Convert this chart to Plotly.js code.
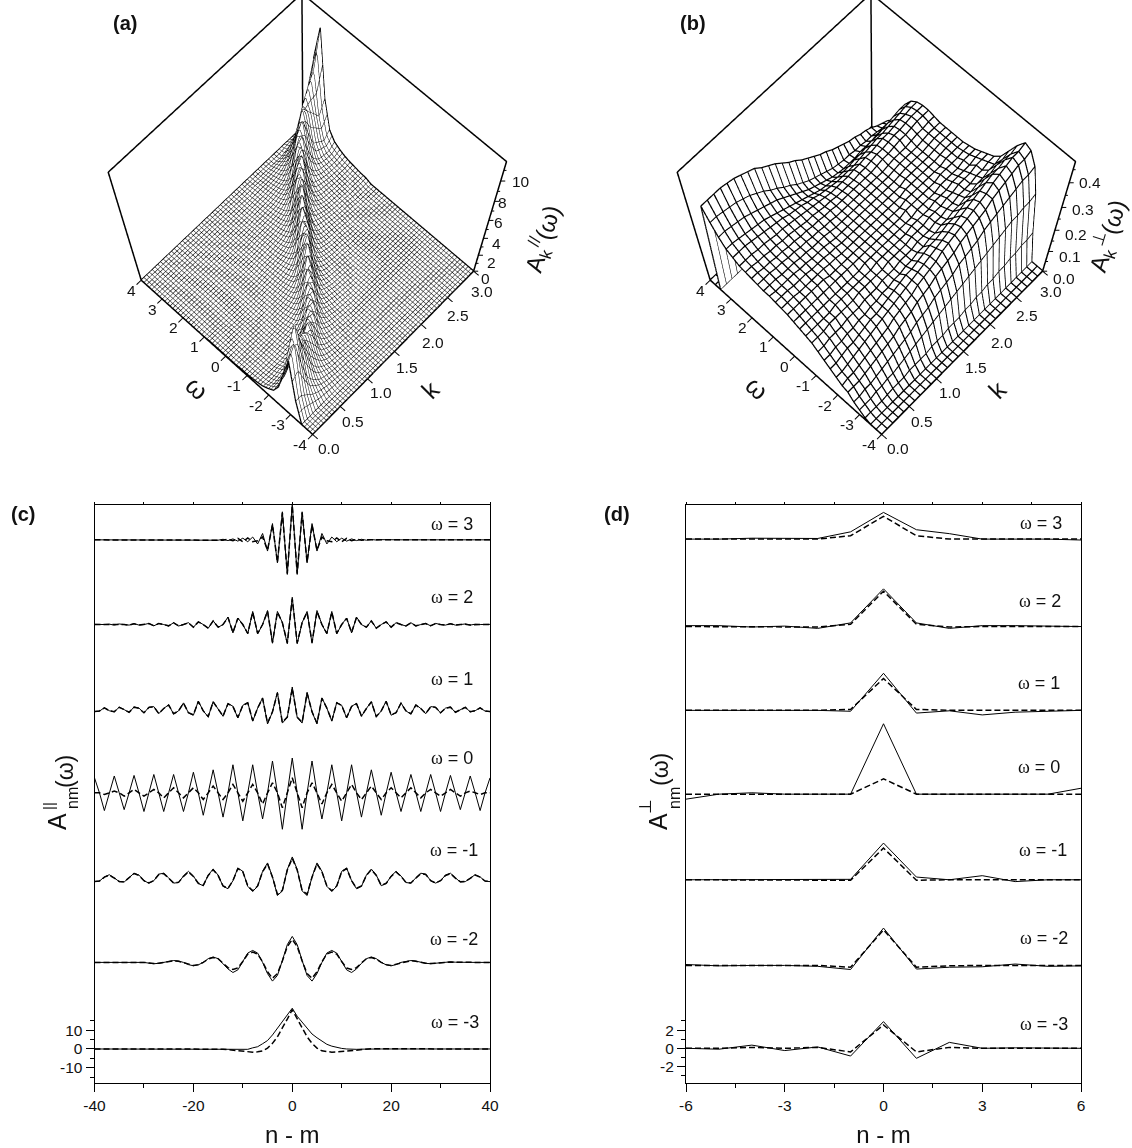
<!DOCTYPE html><html><head><meta charset="utf-8"><script src="https://cdn.plot.ly/plotly-3.0.1.min.js"></script></head><body style="margin:0;background:#fff"><div id="g" style="width:1132px;height:1148px"></div><script>
const kGrid=[0,.1,.2,.3,.4,.5,.6,.7,.8,.9,1,1.1,1.2,1.3,1.4,1.5,1.6,1.7,1.8,1.9,2,2.1,2.2,2.3,2.4,2.5,2.6,2.7,2.8,2.9,3];
const wGrid=[-4,-3.75,-3.5,-3.25,-3,-2.75,-2.5,-2.25,-2,-1.75,-1.5,-1.25,-1,-.75,-.5,-.25,0,.25,.5,.75,1,1.25,1.5,1.75,2,2.25,2.5,2.75,3,3.25,3.5,3.75,4];
// panel (a): one column of values per k, read along w
const zAbyK=[
[0,0,0,3,8,5.5,2.8,1.5,1,.6,.4,.3,.2,.2,.1,.1,.1,.1,.1,.1,0,0,0,0,0,0,0,0,0,0,0,0,0],
[0,0,0,3,9.5,8,3.7,1.7,.9,.5,.35,.25,.2,.15,.1,.1,.1,.1,.1,.1,0,0,0,0,0,0,0,0,0,0,0,0,0],
[0,0,0,2.2,6,10.5,5,2,1,.5,.3,.2,.2,.1,.1,.1,.1,.1,.1,.1,0,0,0,0,0,0,0,0,0,0,0,0,0],
[0,0,0,1.4,3.2,7,8,3,1.3,.7,.3,.2,.2,.1,.1,.1,.1,.1,.1,0,0,0,0,0,0,0,0,0,0,0,0,0,0],
[0,0,0,.9,2,4.5,6.5,3.4,1.5,.7,.35,.25,.2,.15,.1,.1,.1,.1,0,0,0,0,0,0,0,0,0,0,0,0,0,0,0],
[0,0,0,.6,1.1,2.5,4.6,5.5,2,1,.45,.3,.2,.15,.1,.1,.1,.1,0,0,0,0,0,0,0,0,0,0,0,0,0,0,0],
[0,0,0,.35,.7,1.4,3,4.8,3,1.2,.6,.4,.25,.2,.1,.1,.1,0,0,0,0,0,0,0,0,0,0,0,0,0,0,0,0],
[0,0,0,.2,.45,.8,1.6,3.6,4.8,2.3,1,.55,.35,.25,.15,.1,.1,0,0,0,0,0,0,0,0,0,0,0,0,0,0,0,0],
[0,0,0,.1,.25,.4,.8,1.6,3.6,3.9,1.8,.85,.5,.3,.2,.15,.1,.1,0,0,0,0,0,0,0,0,0,0,0,0,0,0,0],
[0,0,0,0,.2,.3,.5,.85,1.8,3.8,3.8,1.7,.8,.5,.3,.2,.15,.1,.1,0,0,0,0,0,0,0,0,0,0,0,0,0,0],
[0,0,0,0,.15,.2,.3,.5,.85,1.8,3.9,3.9,1.8,.85,.5,.3,.2,.15,.1,.1,0,0,0,0,0,0,0,0,0,0,0,0,0],
[0,0,0,0,0,.15,.2,.3,.5,.9,1.8,3.9,4.2,2,.95,.55,.35,.25,.15,.1,.1,0,0,0,0,0,0,0,0,0,0,0,0],
[0,0,0,0,0,0,.15,.2,.35,.55,.8,1.7,3.7,4.8,2.4,1.05,.6,.4,.25,.2,.15,.1,.1,0,0,0,0,0,0,0,0,0,0],
[0,0,0,0,0,0,0,.15,.2,.35,.55,.8,1.5,3.4,5.2,2.8,1.25,.65,.4,.3,.2,.15,.1,.1,0,0,0,0,0,0,0,0,0],
[0,0,0,0,0,0,0,0,.15,.2,.3,.55,.7,1.3,2.9,5.4,3.6,1.5,.8,.5,.35,.2,.15,.15,.1,.1,0,0,0,0,0,0,0],
[0,0,0,0,0,0,0,0,0,.15,.2,.35,.55,.6,1.2,2.5,5.1,4.2,1.8,.95,.55,.35,.25,.2,.15,.1,.1,0,0,0,0,0,0],
[0,0,0,0,0,0,0,0,0,0,.15,.2,.3,.4,.55,1,2,4.5,4.8,2.3,1.1,.6,.4,.25,.2,.15,.1,.1,0,0,0,0,0],
[0,0,0,0,0,0,0,0,0,0,0,.15,.2,.3,.4,.55,.9,1.8,4,5.3,2.7,1.2,.7,.45,.3,.2,.15,.1,.1,0,0,0,0],
[0,0,0,0,0,0,0,0,0,0,0,0,.15,.2,.3,.4,.55,.75,1.5,3.4,5.5,3.2,1.4,.75,.45,.3,.2,.15,.1,.1,0,0,0],
[0,0,0,0,0,0,0,0,0,0,0,0,0,.15,.2,.25,.35,.5,.7,1.3,2.9,5.5,3.6,1.5,.8,.5,.3,.2,.15,.1,.1,0,0],
[0,0,0,0,0,0,0,0,0,0,0,0,0,0,.15,.2,.25,.3,.45,.65,1.1,2.4,5,4.3,1.9,.95,.55,.35,.25,.15,.1,0,0],
[0,0,0,0,0,0,0,0,0,0,0,0,0,0,0,.15,.2,.25,.35,.5,.8,1.1,2.4,5,4.3,1.9,.95,.55,.35,.2,.1,0,0],
[0,0,0,0,0,0,0,0,0,0,0,0,0,0,0,0,.15,.2,.3,.4,.55,.8,1.2,2.6,5.2,4,1.8,.9,.5,.3,.15,0,0],
[0,0,0,0,0,0,0,0,0,0,0,0,0,0,0,0,0,.15,.2,.3,.4,.5,.7,1.1,2.3,4.8,4.5,2,1,.5,.25,0,0],
[0,0,0,0,0,0,0,0,0,0,0,0,0,0,0,0,0,0,.15,.2,.3,.35,.45,.65,1.1,2.4,5,4.5,2,.95,.4,0,0],
[0,0,0,0,0,0,0,0,0,0,0,0,0,0,0,0,0,0,.1,.15,.25,.3,.4,.55,.8,1.3,3,5.6,3.7,1.6,.6,0,0],
[0,0,0,0,0,0,0,0,0,0,0,0,0,0,0,0,0,0,0,.15,.2,.25,.3,.45,.6,.85,1.6,3.8,5.7,3,1.2,.2,0],
[0,0,0,0,0,0,0,0,0,0,0,0,0,0,0,0,0,0,0,0,.15,.2,.3,.35,.5,.7,1,2.2,4.9,5,2.3,.4,0],
[0,0,0,0,0,0,0,0,0,0,0,0,0,0,0,0,0,0,0,0,.15,.2,.25,.35,.45,.6,.85,1.8,4.2,6.3,3.3,.5,0],
[0,0,0,0,0,0,0,0,0,0,0,0,0,0,0,0,0,0,0,0,.15,.2,.25,.35,.45,.6,.8,1.4,3.4,7.3,5.4,.6,0],
[0,0,0,0,0,0,0,0,0,0,0,0,0,0,0,0,0,0,0,0,.2,.25,.35,.45,.6,.85,1.2,2,4.6,10.3,7.5,.8,0]];
const zA=wGrid.map((_,i)=>zAbyK.map(col=>col[i]));
// panel (b): one row of values per w, read along k
const zero=[0,0,0,0,0,0,0,0,0,0,0,0,0,0,0,0,0,0,0,0,0,0,0,0,0,0,0,0,0,0,0];
const zB=[zero,zero,zero,
[.01,.01,.01,.01,.015,.02,.02,.02,.03,.03,.03,.03,.04,.04,.04,.05,.05,.05,.06,.06,.07,.07,.08,.08,.09,.09,.1,.1,.11,.11,.12],
[.03,.03,.03,.04,.04,.05,.05,.06,.07,.08,.09,.1,.11,.12,.13,.14,.15,.16,.17,.18,.19,.2,.21,.22,.23,.24,.25,.25,.26,.26,.27],
[.05,.05,.06,.06,.07,.08,.09,.1,.11,.12,.13,.15,.16,.17,.19,.2,.21,.22,.24,.25,.26,.27,.29,.3,.31,.32,.33,.34,.35,.35,.36],
[.08,.08,.08,.09,.1,.11,.12,.13,.14,.16,.17,.18,.2,.21,.22,.24,.25,.26,.27,.29,.3,.31,.32,.33,.35,.36,.37,.38,.39,.39,.4],
[.09,.1,.1,.11,.12,.13,.14,.15,.16,.18,.19,.2,.21,.23,.24,.25,.26,.28,.29,.3,.31,.32,.33,.34,.35,.37,.38,.39,.4,.4,.41],
[.11,.11,.12,.13,.14,.15,.16,.17,.18,.19,.2,.21,.22,.23,.24,.25,.26,.27,.28,.29,.3,.31,.32,.33,.34,.35,.36,.36,.37,.37,.38],
[.13,.13,.14,.15,.15,.16,.17,.18,.18,.19,.2,.21,.22,.23,.23,.24,.25,.26,.26,.27,.28,.28,.29,.3,.3,.31,.32,.32,.33,.33,.34],
[.15,.15,.16,.16,.17,.17,.18,.18,.19,.19,.2,.2,.21,.21,.22,.22,.23,.23,.24,.24,.25,.25,.26,.26,.27,.27,.28,.28,.29,.29,.3],
[.17,.17,.18,.18,.18,.19,.19,.19,.2,.2,.2,.21,.21,.21,.22,.22,.22,.23,.23,.23,.24,.24,.25,.25,.26,.26,.26,.27,.27,.28,.28],
[.19,.19,.19,.2,.2,.2,.2,.2,.21,.21,.21,.21,.21,.22,.22,.22,.22,.23,.23,.23,.24,.24,.24,.25,.25,.26,.26,.26,.27,.27,.27],
[.2,.2,.2,.2,.2,.21,.21,.21,.21,.21,.21,.21,.22,.22,.22,.22,.22,.22,.23,.23,.23,.23,.24,.24,.24,.25,.25,.25,.25,.26,.26],
[.21,.21,.21,.21,.21,.21,.21,.21,.21,.21,.21,.22,.22,.22,.22,.22,.22,.22,.22,.22,.23,.23,.23,.23,.24,.24,.24,.24,.25,.25,.25],
[.22,.22,.22,.22,.22,.22,.22,.22,.22,.22,.22,.22,.22,.22,.22,.22,.22,.22,.22,.23,.23,.23,.23,.23,.23,.24,.24,.24,.24,.245,.245],
[.23,.23,.23,.23,.23,.23,.23,.22,.22,.22,.22,.22,.22,.22,.22,.22,.22,.22,.22,.22,.23,.23,.23,.23,.23,.23,.23,.24,.24,.24,.24],
[.235,.235,.235,.23,.23,.23,.23,.23,.225,.225,.22,.22,.22,.22,.22,.22,.22,.22,.22,.22,.22,.23,.23,.23,.23,.23,.23,.235,.24,.24,.24],
[.24,.24,.24,.235,.235,.235,.23,.23,.23,.225,.225,.22,.22,.22,.22,.22,.22,.22,.22,.22,.22,.22,.23,.23,.23,.23,.23,.235,.24,.24,.24],
[.245,.24,.24,.24,.24,.235,.235,.23,.23,.23,.225,.22,.22,.22,.22,.22,.22,.22,.22,.22,.22,.22,.225,.23,.23,.23,.23,.235,.24,.24,.24],
[.245,.245,.245,.24,.24,.24,.235,.235,.23,.23,.23,.225,.22,.22,.22,.22,.22,.22,.22,.22,.22,.22,.225,.23,.23,.23,.23,.235,.24,.24,.24],
[.25,.25,.25,.245,.245,.24,.24,.235,.235,.23,.23,.225,.225,.22,.22,.22,.22,.22,.22,.22,.22,.22,.225,.23,.23,.23,.235,.24,.24,.245,.245],
[.255,.255,.25,.25,.245,.245,.24,.24,.235,.235,.23,.23,.225,.225,.22,.22,.22,.22,.22,.22,.22,.225,.23,.23,.235,.24,.24,.245,.25,.25,.25],
[.26,.26,.255,.255,.25,.25,.245,.245,.24,.235,.23,.23,.225,.22,.22,.215,.215,.215,.215,.22,.22,.225,.23,.23,.235,.24,.24,.245,.25,.25,.25],
[.265,.265,.265,.26,.26,.255,.25,.25,.245,.24,.235,.23,.225,.22,.215,.21,.21,.21,.21,.215,.215,.22,.22,.225,.23,.23,.235,.24,.24,.245,.245],
[.28,.28,.28,.275,.27,.265,.26,.255,.25,.24,.235,.23,.22,.215,.205,.2,.195,.19,.19,.19,.19,.195,.2,.205,.21,.21,.215,.22,.225,.23,.23],
[.295,.295,.29,.285,.28,.275,.27,.26,.25,.24,.23,.22,.21,.2,.19,.18,.175,.17,.165,.165,.165,.17,.17,.175,.18,.18,.185,.19,.195,.2,.2],
[.325,.325,.32,.315,.31,.3,.29,.28,.27,.26,.245,.23,.215,.2,.185,.175,.165,.155,.145,.14,.135,.135,.135,.14,.14,.14,.145,.145,.15,.15,.15],
[.365,.365,.36,.355,.35,.34,.33,.315,.3,.28,.265,.245,.23,.21,.195,.18,.17,.16,.15,.14,.135,.13,.13,.125,.125,.12,.12,.115,.11,.105,.1],
[.41,.41,.41,.41,.405,.4,.39,.38,.37,.35,.335,.32,.3,.28,.265,.245,.23,.215,.2,.19,.175,.165,.155,.145,.14,.13,.125,.115,.1,.09,.08],
zero,zero,zero];
// panel (c): values at n-m = 0..40 (the curves are even in n-m), ω = -3 solid is typed for -40..40
const cOffsets=[272.3,227,181.3,137,90,46.3,0];
const cLabels=['3','2','1','0','-1','-2','-3'];
const c3s=[19,-18.5,15,-12.3,8.7,-6,3.4,-2.2,1.5,-1,.9,-.7,.5,-.4,.3,-.2,.15,-.1,.1,0,0,0,0,0,0,0,0,0,0,0,0,0,0,0,0,0,0,0,0,0,0];
const c3d=[18.5,-18,14.5,-12,8,-5.5,1.5,-.5,-1,1,-1,.8,-.5,.3,-.2,.1,0,0,0,0,0,0,0,0,0,0,0,0,0,0,0,0,0,0,0,0,0,0,0,0,0];
const c2s=[14.6,-10.3,1,7,-10,7.5,0,-5,7,-5,0,3.5,-4.5,4,0,-1.5,2,-2,0,1.5,-1.5,1,0,-.8,1,-.8,0,.6,-.7,.6,0,-.3,.5,-.3,0,.3,-.3,.2,0,-.1,.1];
const c2d=[13.8,-9.8,1,6.6,-9.5,7,0,-4.7,6.6,-4.7,0,3.3,-4.2,3.8,0,-1.4,1.9,-1.9,0,1.4,-1.4,.9,0,-.7,.9,-.7,0,.5,-.6,.5,0,-.3,.4,-.3,0,.2,-.2,.1,0,0,0];
const c1s=[12.3,-4,-7,9.5,-1,-7.5,6.5,1,-6,4,2.5,-4.3,2,3.5,-3.4,.8,4.5,-3.7,-.5,4.8,-2.8,-1.5,3.8,-.5,-2.2,2.8,.8,-2,1.8,1.5,-1.6,1,1.6,-1.3,.2,1.5,-1,-.4,1.2,-.6,-.9];
const c1d=[11.5,-3.8,-6.6,9,-1,-7,6.2,1,-5.7,3.8,2.4,-4,1.9,3.3,-3.2,.8,4.3,-3.5,-.5,4.5,-2.6,-1.4,3.6,-.5,-2,2.6,.8,-1.9,1.7,1.4,-1.5,.9,1.5,-1.2,.2,1.4,-.9,-.4,1.1,-.5,-.8];
const c0s=[18.6,0,-19.5,0,17,0,-14,0,15,0,-15,0,15,0,-13,0,12.3,0,-12,0,11,0,-10,0,9.8,0,-10,0,9.8,0,-10,0,9.3,0,-9,0,9,0,-9.5,0,8];
const c0d=[8,0,-8,0,5.4,0,-6,0,4.5,0,-4.5,0,4.5,0,-3.6,0,3.6,0,-3.6,0,2.7,0,-2.7,0,2.7,0,-2.7,0,1.8,0,-1.8,0,1.8,0,-1.8,0,.9,0,-.9,0,0];
const cm1s=[12.7,6,-5.5,-7.9,2,9.5,5,-3,-5.7,-3,5,6.8,0,-4.3,-3,3,6.2,3,-2.7,-1.5,2.5,5,2.5,-1,-1.3,1.5,4,3.5,0,-1.3,0,3,4,1.5,-.7,-.5,1.5,3.2,2,-.2,-.5];
const cm1d=[12,5.7,-5.2,-7.2,1.9,9,4.8,-2.8,-5.4,-2.8,4.8,6.5,0,-4.1,-2.8,2.8,5.9,2.8,-2.5,-1.4,2.3,4.7,2.3,-.9,-1.2,1.4,3.8,3.3,0,-1.2,0,2.8,3.8,1.4,-.6,-.4,1.4,3,1.9,-.2,-.4];
const cm2s=[13.9,9.5,1,-7,-10,-6,0,5,6.4,5,.5,-4,-5.4,-3.5,-.5,2,2.9,2,0,-1.3,-1.8,-1.2,0,.7,1,.7,0,-.5,-.7,-.4,0,.2,.3,.1,0,0,0,0,0,0,0];
const cm2d=[12.3,8.5,.8,-6,-8.5,-5,.3,4.5,5.5,4.4,.5,-3,-3.8,-2.8,-.3,2,2.6,1.8,0,-1.2,-1.6,-1,0,.6,.9,.6,0,-.4,-.6,-.3,0,.2,.2,.1,0,0,0,0,0,0,0];
const cm3sFull=[0,0,0,0,0,0,0,0,0,0,0,0,0,0,0,0,0,0,0,0,0,0,0,0,0,0,0,0,-.4,-.4,-.3,-.2,.6,1.2,2.8,4.5,7.5,11,15,18,21.8,17.5,14.5,11,8,6,4,2.5,1.5,.8,.3,0,-.2,-.2,-.1,0,0,0,0,0,0,0,0,0,0,0,0,0,0,0,0,0,0,0,0,0,0,0,0,0,0];
const cm3d=[21,16,11,6.5,3,.5,-1,-1.5,-1.7,-1.6,-1.3,-1,-.7,-.4,-.1,0,.1,.1,.1,.1,.1,.1,.1,0,0,0,0,0,0,0,0,0,0,0,0,0,0,0,0,0,0];
// panel (d): values at n-m = -6..6
const dX=[-6,-5,-4,-3,-2,-1,0,1,2,3,4,5,6];
const dOffsets=[55.9,46.3,37.1,27.9,18.5,9.1,0];
const d3s=[0,0,.1,.05,.07,.8,2.93,1.03,.6,0,0,0,-.1];
const d3d=[0,0,0,0,0,.37,2.5,.37,0,0,0,0,0];
const d2s=[.1,.1,-.05,.05,-.2,.4,4.14,.4,-.2,.1,.1,.05,0];
const d2d=[0,0,0,0,-.05,.25,3.88,.25,-.05,0,0,0,0];
const d1s=[0,0,0,0,0,-.1,4.07,-.3,-.05,-.5,-.2,-.1,0];
const d1d=[0,0,0,0,0,.1,3.5,.1,0,0,0,0,0];
const d0s=[-.55,0,.15,0,0,0,7.73,0,0,0,0,0,.65];
const d0d=[0,0,0,0,0,0,1.68,0,0,0,0,0,0];
const dm1s=[0,0,0,0,0,.05,4.03,.3,0,.45,-.2,0,0];
const dm1d=[0,0,0,0,0,-.05,3.48,-.05,0,0,0,0,0];
const dm2s=[.1,-.05,0,0,-.1,-.45,4.1,-.4,-.2,-.15,.15,-.1,-.05];
const dm2d=[0,0,0,0,0,-.2,3.9,-.2,-.05,0,0,0,0];
const dm3s=[0,-.1,.35,-.25,.15,-.85,2.93,-1.1,.65,0,.05,0,0];
const dm3d=[0,0,.1,0,.1,-.4,2.56,-.4,.1,0,0,0,0];
const cX=[];for(let i=-40;i<=40;i++)cX.push(i);
const both=h=>h.slice(1).reverse().concat(h);
const cSolid=[both(c3s),both(c2s),both(c1s),both(c0s),both(cm1s),both(cm2s),cm3sFull];
const cDash=[both(c3d),both(c2d),both(c1d),both(c0d),both(cm1d),both(cm2d),both(cm3d)];
const dSolid=[d3s,d2s,d1s,d0s,dm1s,dm2s,dm3s];
const dDash=[d3d,d2d,d1d,d0d,dm1d,dm2d,dm3d];

const W=1132,H=1148,FONT='"Liberation Sans",Arial,sans-serif',BK='#000';
const traces=[];
function surf(z,s,lift,fine){const t={type:'surface',scene:s,x:kGrid,y:wGrid,z:z,showscale:false,hoverinfo:'skip',colorscale:[[0,'#fff'],[1,'#fff']],lighting:{ambient:1,diffuse:0,specular:0,roughness:1,fresnel:0}};
 if(fine)t.contours={x:{show:true,start:.05,end:2.96,size:.05,color:BK,width:2.5,highlight:false},y:{show:true,start:-3.875,end:3.88,size:.125,color:BK,width:2.5,highlight:false},z:{highlight:false}};
 traces.push(t);
 // fine mesh: only the outline at k = 0 and k = 3 as lines; otherwise every grid line of the table
 const X=[],Y=[],Z=[];
 const cols=fine?[0,kGrid.length-1]:kGrid.map((_,j)=>j);
 cols.forEach(j=>{wGrid.forEach((w,i)=>{X.push(kGrid[j]);Y.push(w);Z.push(z[i][j]+lift);});X.push(null);Y.push(null);Z.push(null);});
 if(!fine)wGrid.forEach((w,i)=>{kGrid.forEach((k,j)=>{X.push(k);Y.push(w);Z.push(z[i][j]+lift);});X.push(null);Y.push(null);Z.push(null);});
 traces.push({type:'scatter3d',scene:s,mode:'lines',x:X,y:Y,z:Z,connectgaps:false,line:{color:BK,width:2.5},showlegend:false,hoverinfo:'skip'});}
function frame(t,s){traces.push({type:'scatter3d',scene:s,mode:'lines',x:[0,0,3,3,3,3,3,3,3,0,0,3,3],y:[4,4,4,-4,-4,-4,4,4,4,4,-4,-4,4],z:[0,t,t,t,0,t,t,0,0,0,0,0,0],line:{color:BK,width:3},showlegend:false,hoverinfo:'skip'});}
surf(zA,'scene',.03,true);frame(11.8,'scene');surf(zB,'scene2',.002,false);frame(.48,'scene2');
function lines(xs,sol,das,off,xa,ya){off.forEach((o,i)=>{
 traces.push({x:xs,y:sol[i].map(v=>v+o),xaxis:xa,yaxis:ya,mode:'lines',line:{color:BK,width:1},hoverinfo:'skip',showlegend:false});
 traces.push({x:xs,y:das[i].map(v=>v+o),xaxis:xa,yaxis:ya,mode:'lines',line:{color:BK,width:1.5,dash:'6px,3px'},hoverinfo:'skip',showlegend:false});});}
lines(cX,cSolid,cDash,cOffsets,'x','y');lines(dX,dSolid,dDash,dOffsets,'x2','y2');
traces.push({x:[],y:[],xaxis:'x3',yaxis:'y',hoverinfo:'skip',showlegend:false});
traces.push({x:[],y:[],xaxis:'x4',yaxis:'y2',hoverinfo:'skip',showlegend:false});

const tick3={showgrid:false,zeroline:false,showspikes:false,showbackground:false,showline:false,ticks:'outside',ticklen:6,tickwidth:2,tickcolor:BK,showticklabels:false,title:{text:''}};
const noTick3=Object.assign({},tick3,{ticks:''});
const cam={projection:{type:'perspective'},up:{x:0,y:0,z:1},eye:{x:-1.647,y:-1.552,z:4.4525},center:{x:-.793,y:-.747,z:-.3125}};
const wTicks=[-4,-3,-2,-1,0,1,2,3,4], kTicks=[0,.5,1,1.5,2,2.5,3];
const kText=['0.0','0.5','1.0','1.5','2.0','2.5','3.0'];
const kShiftX=[16,13,13,12,12,10,8],kShiftY=[-14,-15,-14,-16,-18,-18,-20];
function sceneAnn(zMajor,zMinor,zText,zsx,zsy){const a=[],f={family:FONT,size:15.5,color:'#111'};
 const tk=(v,len)=>({x:3,y:-4,z:v,text:' ',showarrow:true,arrowhead:0,arrowwidth:1,arrowcolor:BK,ax:len,ay:0,font:{size:1},borderpad:0,standoff:0,startstandoff:0});
 wTicks.forEach(w=>a.push({x:0,y:w,z:0,text:String(w),showarrow:false,font:f,xshift:w<0?-13:-10,yshift:-10}));
 kTicks.forEach((k,i)=>a.push({x:k,y:-4,z:0,text:kText[i],showarrow:false,font:f,xshift:kShiftX[i],yshift:kShiftY[i]}));
 zMajor.forEach((v,i)=>{a.push({x:3,y:-4,z:v,text:zText[i],showarrow:false,font:f,xshift:zsx[i],yshift:zsy[i]});a.push(tk(v,5));});
 zMinor.forEach(v=>a.push(tk(v,3)));
 return a;}
function scene(dom,zr,zMajor,zMinor,zText,zsx,zsy){return {domain:{x:dom,y:[0.1,1]},bgcolor:'rgba(0,0,0,0)',aspectmode:'manual',aspectratio:{x:1,y:1,z:.905},camera:cam,
 xaxis:Object.assign({},tick3,{range:[0,3],tickvals:kTicks}),yaxis:Object.assign({},tick3,{range:[-4,4],tickvals:wTicks}),zaxis:Object.assign({},noTick3,{range:[0,zr]}),
 annotations:sceneAnn(zMajor,zMinor,zText,zsx,zsy)};}
const px=(x,y)=>({x:x/W,y:1-y/H,xref:'paper',yref:'paper'});
const ann=[];
function put(x,y,text,size,o){ann.push(Object.assign(px(x,y),{text:text,showarrow:false,xanchor:'center',yanchor:'middle',font:{family:FONT,size:size,color:'#111'}},o||{}));}
put(125,23,'<b>(a)</b>',20);put(693,23,'<b>(b)</b>',20);put(23,514,'<b>(c)</b>',20);put(617,514,'<b>(d)</b>',20);
const wl=s=>'<span style="font-family:\'Liberation Serif\'">ω</span> = '+s;
[[452,524],[452,597],[452,679],[452,758],[454,850],[454,939],[455,1022]].forEach((p,i)=>put(p[0],p[1],wl(cLabels[i]),18));
[[1041,523],[1040,601],[1039,683],[1039,767],[1043,850],[1044,938],[1044,1024]].forEach((p,i)=>put(p[0],p[1],wl(cLabels[i]),18));
put(197,388,'ω',26,{textangle:43});put(430,390,'k',25,{textangle:-45});
put(757,388,'ω',26,{textangle:43});put(997,390,'k',25,{textangle:-45});
put(543,239,'A<sub>k</sub><sup>//</sup>(ω)',24,{textangle:-73});
put(1108,236,'A<sub>k</sub><sup>⊥</sup>(ω)',24,{textangle:-73});
put(57,822,'A',25,{textangle:-90});put(48,806,'||',15,{textangle:-90});put(72,798,'nm',16,{textangle:-90});put(65,772,'(ω)',23,{textangle:-90});
put(658,822,'A',25,{textangle:-90});put(645,807,'⊥',17,{textangle:-90});put(674,798,'nm',16,{textangle:-90});put(660,770,'(ω)',23,{textangle:-90});
const axl={showline:true,linecolor:BK,linewidth:1,mirror:true,showgrid:false,zeroline:false,ticks:'outside',tickcolor:BK,tickwidth:1,ticklen:8,tickfont:{family:FONT,size:15.5,color:'#111'}};
function xAx(dom,r,vals,mins,anch){return Object.assign({},axl,{domain:dom,anchor:anch,range:r,tickmode:'array',tickvals:vals,ticktext:vals.map(String),minor:{tickmode:'array',tickvals:mins,ticks:'outside',ticklen:4,tickcolor:BK,tickwidth:1},title:{text:'n - m',font:{family:FONT,size:24,color:'#111'},standoff:14}});}
function yAx(r,vals,mins,anch){return Object.assign({},axl,{domain:[65/H,643.5/H],anchor:anch,range:r,tickmode:'array',tickvals:vals,ticktext:vals.map(String),minor:{tickmode:'array',tickvals:mins,ticks:'outside',ticklen:4,tickcolor:BK,tickwidth:1}});}
function topAx(dom,r,ov,ya,vals){return {domain:dom,range:r,overlaying:ov,anchor:ya,side:'top',showline:false,showgrid:false,zeroline:false,ticks:'outside',ticklen:2,tickcolor:BK,tickmode:'array',tickvals:vals,showticklabels:false};}
const cDom=[94.5/W,490/W],dDom=[686/W,1081/W];
const layout={width:W,height:H,margin:{l:0,r:0,t:0,b:0},paper_bgcolor:'#fff',plot_bgcolor:'rgba(0,0,0,0)',showlegend:false,annotations:ann,
 scene:scene([0.0118,0.5318],11.8,[0,2,4,6,8,10],[1,3,5,7,9,11],['0','2','4','6','8','10'],[12,13,13,10,8,20],[-7,-7,-5,-2,-1,0]),
 scene2:scene([0.5488,1],.48,[0,.1,.2,.3,.4],[.05,.15,.25,.35,.45],['0.0','0.1','0.2','0.3','0.4'],[21,21,21,21,21],[-7,-5,-4,-2,0]),
 xaxis:xAx(cDom,[-40,40],[-40,-20,0,20,40],[-30,-10,10,30],'y'),
 yaxis:yAx([-18.2,291.2],[-10,0,10],[-15,-5,5,15],'x'),
 xaxis2:xAx(dDom,[-6,6],[-6,-3,0,3,6],[-4.5,-1.5,1.5,4.5],'y2'),
 yaxis2:yAx([-3.81,59.7],[-2,0,2],[-3,-1,1,3],'x2'),
 xaxis3:topAx(cDom,[-40,40],'x','y',[-40,-30,-20,-10,0,10,20,30,40]),
 xaxis4:topAx(dDom,[-6,6],'x2','y2',[-6,-4.5,-3,-1.5,0,1.5,3,4.5,6])};
Plotly.newPlot('g',traces,layout,{displayModeBar:false,responsive:false});
</script></body></html>
